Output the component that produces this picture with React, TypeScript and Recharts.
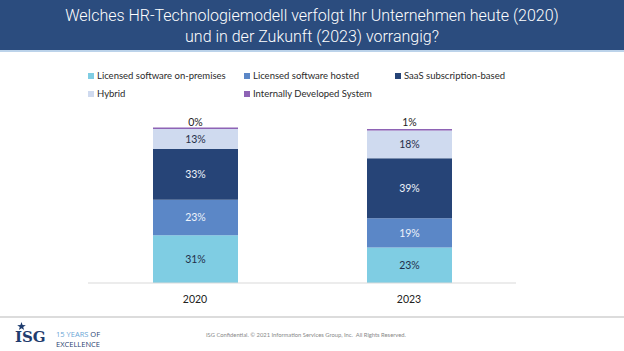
import * as React from "react";
import { BarChart, Bar, XAxis, YAxis, LabelList } from "recharts";

/* ---------- data ---------- */
const years = ["2020", "2023"];
const onPremises = [31, 23];
const hosted = [23, 19];
const saas = [33, 39];
const hybrid = [13, 18];
const internal = [0, 1];

const seriesNames = [
  "Licensed software on-premises",
  "Licensed software hosted",
  "SaaS subscription-based",
  "Hybrid",
  "Internally Developed System",
];

/* ---------- visuals ---------- */
const cOnPrem = "#7fcde3";
const cHosted = "#5b87c7";
const cSaas = "#264477";
const cHybrid = "#cfdaef";
const cInternal = "#8e63b5";
const darkText = "#1f2f4a";
const font = "Lato, 'Open Sans', sans-serif";

const data = years.map((y, i) => ({
  year: y,
  onPremises: onPremises[i],
  hosted: hosted[i],
  saas: saas[i],
  hybrid: hybrid[i],
  internal: internal[i],
}));

const pct = (v: any) => `${v}%`;

// zero-height segment still shows a thin line on top of the stack
const ThinTop = (p: any) => {
  const h = Math.max(Math.abs(p.height || 0), 1.5);
  return <rect x={p.x} y={p.y - (p.height ? 0 : h)} width={p.width} height={h} fill={cInternal} />;
};

const legendItems = [
  { name: seriesNames[0], color: cOnPrem, x: 88, y: 70 },
  { name: seriesNames[1], color: cHosted, x: 244, y: 70 },
  { name: seriesNames[2], color: cSaas, x: 395, y: 70 },
  { name: seriesNames[3], color: cHybrid, x: 88, y: 88 },
  { name: seriesNames[4], color: cInternal, x: 244, y: 88 },
];

const labelStyle = (fill: string) => ({ fontSize: 10.5, fill, fontFamily: font });

export default function App() {
  return (
    <div style={{ position: "absolute", left: 0, top: 0, width: 624, height: 351, background: "#fff", overflow: "hidden", fontFamily: font }}>
      {/* title banner */}
      <div
        style={{
          position: "absolute", left: 0, top: 0, width: 624, height: 50, background: "#2b4c7e",
          color: "#fff", fontFamily: "Roboto, sans-serif", fontWeight: 300, fontSize: 16,
          lineHeight: "21px", textAlign: "center", paddingTop: 5, boxSizing: "border-box",
        }}
      >
        Welches HR-Technologiemodell verfolgt Ihr Unternehmen heute (2020)
        <br />
        und in der Zukunft (2023) vorrangig?
      </div>
      <div style={{ position: "absolute", left: 0, top: 50, width: 624, height: 2, background: "#bcd3ea" }} />

      {/* legend */}
      {legendItems.map((it) => (
        <div key={it.name} style={{ position: "absolute", left: it.x, top: it.y, display: "flex", alignItems: "center", fontSize: 9.5, color: "#2a2a2a" }}>
          <span style={{ width: 6, height: 6, background: it.color, marginRight: 3, display: "inline-block" }} />
          {it.name}
        </div>
      ))}

      {/* chart */}
      <div style={{ position: "absolute", left: 0, top: 0 }}>
        <BarChart width={624} height={351} data={data} margin={{ top: 129, right: 108, bottom: 38, left: 88 }} barSize={85}>
          <YAxis hide domain={[0, 100]} />
          <XAxis
            dataKey="year"
            height={30}
            axisLine={{ stroke: "#d9d9d9" }}
            tickLine={false}
            tick={{ fontSize: 10.5, fill: "#222", fontFamily: font }}
            tickMargin={7}
          />
          <Bar dataKey="onPremises" stackId="a" fill={cOnPrem} isAnimationActive={false}>
            <LabelList dataKey="onPremises" position="center" formatter={pct} style={labelStyle(darkText)} />
          </Bar>
          <Bar dataKey="hosted" stackId="a" fill={cHosted} isAnimationActive={false}>
            <LabelList dataKey="hosted" position="center" formatter={pct} style={labelStyle("#eef3fb")} />
          </Bar>
          <Bar dataKey="saas" stackId="a" fill={cSaas} isAnimationActive={false}>
            <LabelList dataKey="saas" position="center" formatter={pct} style={labelStyle("#eef3fb")} />
          </Bar>
          <Bar dataKey="hybrid" stackId="a" fill={cHybrid} isAnimationActive={false}>
            <LabelList dataKey="hybrid" position="center" formatter={pct} style={labelStyle(darkText)} />
          </Bar>
          <Bar dataKey="internal" stackId="a" fill={cInternal} shape={ThinTop} isAnimationActive={false}>
            <LabelList dataKey="internal" position="top" offset={3} formatter={pct} style={labelStyle("#222")} />
          </Bar>
        </BarChart>
      </div>

      {/* footer */}
      <div style={{ position: "absolute", left: 0, top: 316, width: 624, height: 2, background: "#dcdcdc" }} />
      <svg style={{ position: "absolute", left: 17, top: 322 }} width={9} height={9} viewBox="-5 -5 10 10">
        <polygon
          points="0,-5 1.2,-1.6 4.8,-1.5 1.9,0.6 2.9,4 0,2 -2.9,4 -1.9,0.6 -4.8,-1.5 -1.2,-1.6"
          fill="#1f3c6e"
        />
      </svg>
      <div style={{ position: "absolute", left: 15, top: 329, color: "#1f3c6e", fontFamily: "'DejaVu Serif', serif", fontWeight: 700, fontSize: 15, lineHeight: "16px" }}>
        ISG
      </div>
      <div style={{ position: "absolute", left: 56, top: 330, fontSize: 7.5, lineHeight: "9.5px", color: "#2a4170", fontFamily: "'Open Sans', sans-serif" }}>
        <div>
          <span style={{ color: "#6aa6d6" }}>15 YEARS</span> OF
        </div>
        <div>EXCELLENCE</div>
      </div>
      <div style={{ position: "absolute", left: 206, top: 331, fontSize: 5.8, color: "#888", fontFamily: font, whiteSpace: "nowrap" }}>
        ISG Confidential. © 2021 Information Services Group, Inc.&nbsp; All Rights Reserved.
      </div>
    </div>
  );
}
